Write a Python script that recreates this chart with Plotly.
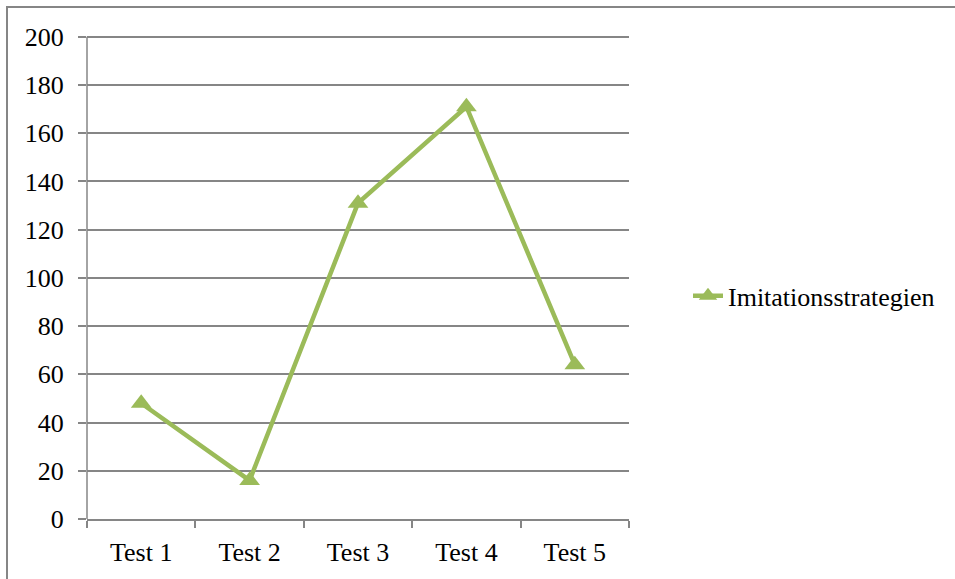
import plotly.graph_objects as go

categories = ["Test 1", "Test 2", "Test 3", "Test 4", "Test 5"]
imitation_values = [48, 16, 131, 171, 64]
series_name = "Imitationsstrategien"
y_ticks = [0, 20, 40, 60, 80, 100, 120, 140, 160, 180, 200]

GREEN = "#9BBB59"
GRAY = "#868686"

# plot area in pixels
W, H = 955, 579
L, R, B = 87, 629, 521
Y_TOP = 202          # a little headroom so the 200 gridline is drawn
PX_PER_UNIT = 484 / 200
T = round(B - Y_TOP * PX_PER_UNIT)
pw, ph = R - L, B - T

fig = go.Figure()
fig.add_trace(go.Scatter(
    x=categories,
    y=imitation_values,
    mode="lines+markers",
    name=series_name,
    line=dict(color=GREEN, width=4.5),
    marker=dict(symbol="triangle-up", size=18, color=GREEN),
))

fig.update_layout(
    width=W, height=H,
    margin=dict(l=L, r=W - R, t=T, b=H - B, pad=0),
    paper_bgcolor="white",
    plot_bgcolor="white",
    font=dict(family="Liberation Serif, Times New Roman, serif", size=26, color="black"),
    showlegend=True,
    legend=dict(
        x=(688 - L) / pw, y=(B - 297) / ph,
        xanchor="left", yanchor="middle",
        font=dict(size=26),
        bgcolor="rgba(0,0,0,0)",
    ),
)

fig.update_xaxes(
    type="category",
    showgrid=False,
    showline=True, linecolor=GRAY, linewidth=1.5,
    ticks="outside", tickson="boundaries", ticklen=7, tickcolor=GRAY, tickwidth=1.5,
    ticklabelstandoff=9,
    zeroline=False,
    range=[-0.5, len(categories) - 0.5],
)
fig.update_yaxes(
    range=[0, Y_TOP],
    tickvals=y_ticks,
    showgrid=True, gridcolor=GRAY, gridwidth=1.5,
    showline=False,
    ticks="outside", ticklen=8, tickcolor=GRAY, tickwidth=1.5,
    ticklabelstandoff=9,
    zeroline=False,
)

# y axis line from 0 to 200 only (no stub above the top gridline)
fig.add_shape(
    type="line", xref="paper", yref="y",
    x0=0, x1=0, y0=0, y1=200,
    line=dict(color=GRAY, width=1.5),
)

# chart border (right and bottom edges fall outside the picture)
fig.add_shape(
    type="rect", xref="paper", yref="paper",
    x0=(7 - L) / pw, x1=(W + 5 - L) / pw,
    y0=(B - (H + 5)) / ph, y1=(B - 7) / ph,
    line=dict(color=GRAY, width=2),
    fillcolor="rgba(0,0,0,0)",
    layer="below",
)

fig.write_html("out.html", config={"displayModeBar": False},
               post_script="document.body.style.margin='0px';")
